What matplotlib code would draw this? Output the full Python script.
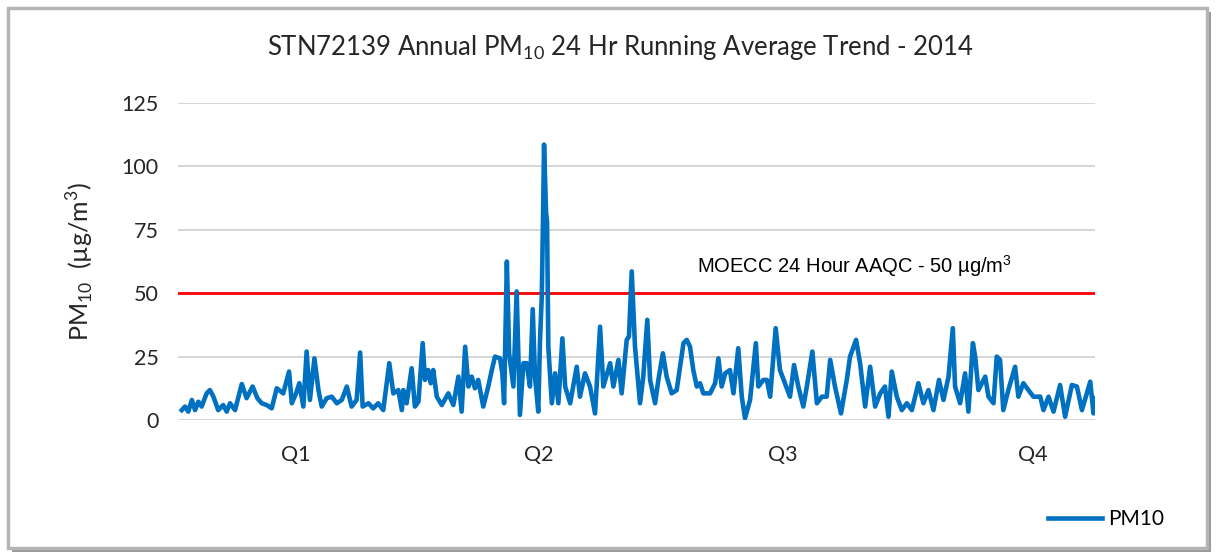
import matplotlib
matplotlib.use("Agg")
import matplotlib.pyplot as plt
from matplotlib.patches import Rectangle

# day of year / 24 hr running average PM10 (ug/m3)
days = [1.5, 2.8, 4.1, 5.5, 6.8, 8.1, 9.4, 11.4, 12.7, 14.1, 16.0, 18.0, 19.4, 20.7, 22.7,
        25.4, 27.3, 29.7, 31.6, 33.3, 35.3, 37.3, 39.3, 41.9, 44.2, 45.3, 47.0, 48.3, 49.9,
        51.2, 52.5, 54.3, 55.9, 57.2, 59.2, 61.2, 63.2, 65.2, 67.2, 69.1, 71.1, 72.5, 73.5,
        75.8, 77.7, 79.7, 81.7, 84.1, 85.7, 87.7, 89.1, 89.7, 91.0, 93.0, 94.3, 95.7, 97.4,
        98.3, 99.6, 100.6, 101.6, 103.0, 105.0, 107.6, 109.6, 111.6, 112.9, 114.3, 115.6,
        116.9, 118.2, 119.5, 121.5, 123.5, 124.9, 126.2, 128.2, 129.1, 129.8, 130.9, 131.8,
        133.5, 134.8, 136.1, 137.5, 138.8, 140.1, 141.2, 142.1, 143.4, 144.1, 144.8, 145.3,
        145.7, 146.5, 146.9, 147.4, 148.8, 150.1, 151.4, 153.0, 154.1, 156.1, 158.7, 160.0,
        162.0, 164.0, 166.0, 168.0, 169.3, 172.0, 173.3, 175.3, 176.6, 178.6, 179.5, 180.6,
        181.9, 183.9, 185.2, 186.8, 187.9, 189.9, 191.2, 193.0, 194.5, 196.5, 198.5, 201.2,
        202.5, 203.8, 205.1, 206.5, 207.8, 209.1, 211.8, 213.8, 215.1, 216.4, 217.8, 219.7,
        221.1, 223.0, 224.4, 225.7, 227.7, 230.0, 231.0, 233.0, 234.4, 235.7, 237.9, 239.6,
        241.6, 243.6, 245.2, 246.9, 248.9, 250.3, 252.5, 254.3, 256.3, 258.2, 259.6, 261.5,
        263.9, 266.2, 267.5, 269.9, 271.5, 273.5, 275.5, 277.5, 279.5, 281.4, 282.8, 284.1,
        286.1, 288.1, 290.1, 292.1, 294.7, 296.7, 298.7, 300.7, 302.9, 304.7, 306.7, 308.4,
        309.3, 311.3, 313.3, 314.6, 316.4, 317.3, 318.6, 321.3, 322.6, 324.6, 325.9, 327.2,
        328.5, 330.5, 333.2, 334.5, 336.5, 338.5, 340.5, 343.2, 344.5, 346.5, 348.5, 351.1,
        353.1, 355.8, 357.8, 359.8, 363.1, 364.4, 365.0]
pm10 = [3.9, 5.3, 3.3, 7.9, 3.9, 7.2, 5.3, 10.5, 11.8, 9.2, 3.9, 5.9, 3.3, 6.6, 3.9,
        14.2, 8.6, 13.2, 8.6, 6.6, 5.9, 4.6, 12.5, 10.5, 19.1, 6.6, 10.5, 14.5, 5.3,
        27.0, 7.9, 24.3, 11.8, 5.3, 8.6, 9.2, 6.6, 7.9, 13.2, 5.3, 7.9, 26.6, 5.3,
        6.6, 4.6, 6.6, 3.9, 22.4, 10.5, 11.8, 3.9, 11.8, 6.6, 20.4, 5.3, 7.2, 30.3,
        15.8, 19.7, 14.5, 19.7, 9.2, 5.9, 10.5, 5.9, 17.1, 3.3, 28.9, 13.2,
        17.1, 12.5, 15.8, 5.3, 13.2, 19.7, 25.0, 24.3, 18.4, 6.6, 62.5, 26.3,
        13.2, 50.7, 2.0, 22.4, 22.4, 13.2, 43.7, 17.1, 3.3, 31.6, 48.7, 80.0,
        108.6, 82.0, 78.0, 28.9, 6.6, 18.4, 6.6, 32.2, 13.2, 6.6, 21.0, 9.2,
        18.4, 13.2, 2.6, 36.8, 13.2, 22.4, 13.2, 23.7, 10.5, 31.6, 32.9, 58.6,
        28.9, 6.6, 17.1, 39.5, 15.8, 6.6, 15.8, 26.3, 17.1, 10.5, 11.8, 30.3,
        31.6, 28.9, 19.7, 13.2, 14.5, 10.5, 10.5, 14.5, 24.3, 13.2, 18.4, 19.7,
        10.5, 28.3, 9.2, 0.7, 7.9, 30.3, 13.2, 15.8, 15.8, 9.2, 36.2, 19.7,
        14.5, 9.2, 21.7, 13.2, 5.3, 13.2, 27.0, 6.6, 9.2, 9.2, 23.7, 13.2,
        2.6, 15.8, 25.0, 31.6, 22.4, 5.3, 21.0, 5.3, 10.5, 13.2, 1.3, 19.1,
        9.2, 3.9, 6.6, 3.9, 14.5, 6.6, 11.8, 3.9, 15.8, 7.9, 17.1, 36.2,
        13.2, 6.6, 18.4, 3.3, 30.3, 25.0, 11.8, 17.1, 9.2, 6.6, 25.0, 23.7,
        3.9, 11.8, 21.0, 9.2, 14.5, 11.8, 9.2, 9.2, 3.9, 9.2, 3.3, 13.8,
        1.3, 13.8, 13.2, 3.9, 15.1, 2.6, 8.6]

aaqc = 50
quarters = ['Q1', 'Q2', 'Q3', 'Q4']
quarter_pos = [47, 143.7, 240.8, 340.4]
yticks = [0, 25, 50, 75, 100, 125]

fig = plt.figure(figsize=(12.17, 5.6), dpi=100)

# frame with shadow
fig.patches.append(Rectangle((12 / 1217, 1 - 552 / 560), 1199 / 1217, 540 / 560,
                             transform=fig.transFigure, facecolor='#9a9a9a', edgecolor='none', zorder=-3))
fig.patches.append(Rectangle((8 / 1217, 1 - 548 / 560), 1199 / 1217, 540 / 560,
                             transform=fig.transFigure, facecolor='white', edgecolor='#b4b4b4',
                             linewidth=2.5, zorder=-2))

ax = fig.add_axes([178 / 1217, 1 - 420 / 560, 917 / 1217, 317 / 560])
ax.set_facecolor('none')
ax.plot(days, pm10, color='#0070C0', linewidth=3.3, solid_joinstyle='round', label='PM10', zorder=3)
ax.axhline(aaqc, color='#FF0000', linewidth=2, zorder=2)
ax.text(0.566, 0.485, 'MOECC 24 Hour AAQC - 50 µg/m$^{\\mathregular{3}}$', transform=ax.transAxes,
        fontsize=14.5, family='Liberation Sans', ha='left', va='center')

ax.set_xlim(0, 365)
ax.set_ylim(0, 125)
ax.set_yticks(yticks)
ax.set_yticklabels([str(t) for t in yticks], fontsize=15.5, family='Lato', color='#262626')
ax.set_xticks(quarter_pos)
ax.set_xticklabels(quarters, fontsize=15.5, family='Lato', color='#262626')
ax.tick_params(length=0, pad=14)
ax.tick_params(axis='x', pad=18)
ax.grid(axis='y', color='#d0d0d0', linewidth=1.2)
ax.set_axisbelow(True)
for s in ax.spines.values():
    s.set_visible(False)

ax.set_ylabel('PM$_{\\mathregular{10}}$  (µg/m$^{\\mathregular{3}}$)', fontsize=18, family='Lato',
              labelpad=18, color='#262626')

fig.text(620 / 1217, 1 - 47 / 560, 'STN72139 Annual PM$_{\\mathregular{10}}$ 24 Hr Running Average Trend - 2014',
         fontsize=18.5, family='Lato', ha='center', va='center', color='#262626')

leg = ax.legend(loc='center', bbox_to_anchor=(1106 / 1217, 1 - 519 / 560), bbox_transform=fig.transFigure,
                frameon=False, prop={'family': 'Lato', 'size': 15}, handlelength=2.6, handletextpad=0.3)

fig.savefig('out.png', dpi=100)
